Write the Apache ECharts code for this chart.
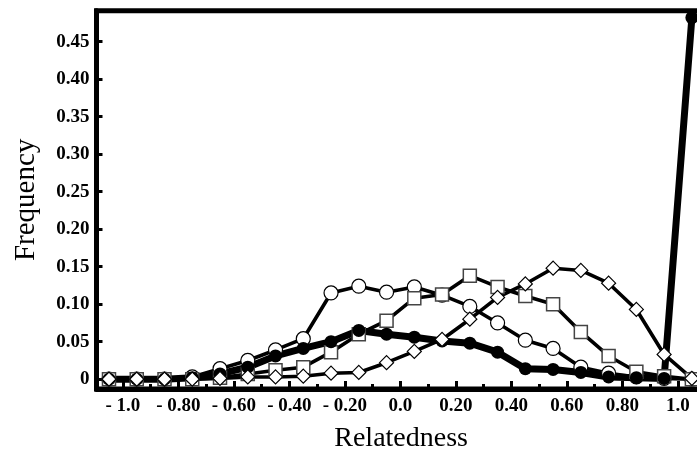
<!DOCTYPE html>
<html>
<head>
<meta charset="utf-8">
<script src="https://cdn.jsdelivr.net/npm/echarts@6/dist/echarts.min.js"></script>
<style>html,body{margin:0;padding:0;background:#fff;}#c{width:697px;height:459px;}</style>
</head>
<body>
<div id="c"></div>
<script>
// ---- data ----
const relatedness = [-1.05,-0.95,-0.85,-0.75,-0.65,-0.55,-0.45,-0.35,-0.25,-0.15,-0.05,0.05,0.15,0.25,0.35,0.45,0.55,0.65,0.75,0.85,0.95,1.05];
const openCircle  = [0,0,0,0.003,0.014,0.025,0.039,0.054,0.115,0.124,0.116,0.123,0.112,0.097,0.075,0.052,0.041,0.016,0.008,0.003,0.001,0];
const openSquare  = [0,0,0,0,0.002,0.007,0.012,0.016,0.036,0.060,0.078,0.108,0.113,0.138,0.123,0.111,0.100,0.063,0.031,0.010,0.004,0];
const openDiamond = [0,0,0,0,0.001,0.003,0.003,0.004,0.008,0.009,0.022,0.037,0.053,0.080,0.109,0.127,0.148,0.145,0.128,0.093,0.033,0.001];
const filledCircle= [0,0,0,0.002,0.007,0.016,0.031,0.041,0.050,0.065,0.060,0.056,0.051,0.048,0.036,0.014,0.013,0.009,0.003,0.002,0.001,0.482];

const xMajorTicks = [-1.0,-0.8,-0.6,-0.4,-0.2,0,0.2,0.4,0.6,0.8,1.0];
const xMajorLabels = ['- 1.0','- 0.80','- 0.60','- 0.40','- 0.20','0.0','0.20','0.40','0.60','0.80','1.0'];
const xMinorTicks = [-0.9,-0.7,-0.5,-0.3,-0.1,0.1,0.3,0.5,0.7,0.9];
const yTicks = [0,0.05,0.10,0.15,0.20,0.25,0.30,0.35,0.40,0.45];
const yLabels = ['0','0.05','0.10','0.15','0.20','0.25','0.30','0.35','0.40','0.45'];

function pairs(ys){ return relatedness.map((x,i)=>[x, ys[i]]); }
function labelFor(vals, labs){ return function(v){ for(let i=0;i<vals.length;i++){ if(Math.abs(vals[i]-v)<1e-6) return labs[i]; } return ''; }; }

const serif = 'Liberation Serif, Times New Roman, serif';
const chart = echarts.init(document.getElementById('c'), null, {renderer:'canvas'});

const lineSeries = (name, ys, w) => ({
  name, type:'line', data:pairs(ys), symbol:'none', z:2, silent:true,
  lineStyle:{color:'#000', width:w, join:'round', cap:'round'}, animation:false
});
const markSeries = (name, ys, sym, fill, z, bw, bc, size) => ({
  name, type:'scatter', data:pairs(ys), symbol:sym, symbolSize:size||13, z:z, silent:true, clip:false,
  itemStyle:{color:fill, borderColor:bc||'#000', borderWidth:bw, opacity:1}, animation:false
});

chart.setOption({
  animation:false,
  backgroundColor:'#fff',
  grid:{left:96.5, top:10.8, right:-8.75, bottom:70, show:true, borderColor:'#000', borderWidth:5, backgroundColor:'transparent', containLabel:false, outerBoundsMode:'none'},
  xAxis:[{
    type:'value', min:-1.095, max:1.1, position:'bottom',
    name:'Relatedness', nameLocation:'middle', nameGap:36,
    nameTextStyle:{fontFamily:serif, fontSize:28, color:'#000'},
    axisLine:{show:true, onZero:false, lineStyle:{color:'#000', width:5}},
    axisTick:{show:true, inside:true, length:8, customValues:xMajorTicks, lineStyle:{color:'#000', width:3}},
    axisLabel:{show:true, customValues:xMajorTicks, formatter:labelFor(xMajorTicks,xMajorLabels), margin:8, fontFamily:serif, fontWeight:'bold', fontSize:19, color:'#000'},
    splitLine:{show:false}
  },{
    type:'value', min:-1.095, max:1.1, position:'bottom',
    axisLine:{show:false, onZero:false},
    axisTick:{show:true, inside:true, length:5, customValues:xMinorTicks, lineStyle:{color:'#000', width:3}},
    axisLabel:{show:false},
    splitLine:{show:false}
  }],
  yAxis:{
    type:'value', min:-0.01307, max:0.4912,
    name:'Frequency', nameLocation:'middle', nameGap:56, nameRotate:90,
    nameTextStyle:{fontFamily:serif, fontSize:29, color:'#000'},
    axisLine:{show:true, onZero:false, lineStyle:{color:'#000', width:5}},
    axisTick:{show:true, inside:true, length:6, customValues:yTicks, lineStyle:{color:'#000', width:3}},
    axisLabel:{show:true, customValues:yTicks, formatter:labelFor(yTicks,yLabels), margin:7, fontFamily:serif, fontWeight:'bold', fontSize:19, color:'#000'},
    splitLine:{show:false}
  },
  series:[
    lineSeries('circleLine', openCircle, 3.6),
    lineSeries('squareLine', openSquare, 3.6),
    lineSeries('diamondLine', openDiamond, 3.6),
    lineSeries('filledLine', filledCircle, 7),
    markSeries('circle', openCircle, 'circle', '#fff', 3, 1.2, '#000', 14),
    markSeries('square', openSquare, 'rect', '#fff', 4, 1.5, '#444', 13),
    markSeries('filled', filledCircle, 'circle', '#000', 5, 0, '#000', 13),
    markSeries('diamond', openDiamond, 'diamond', '#fff', 6, 1.2, '#000', 14)
  ]
});
</script>
</body>
</html>
